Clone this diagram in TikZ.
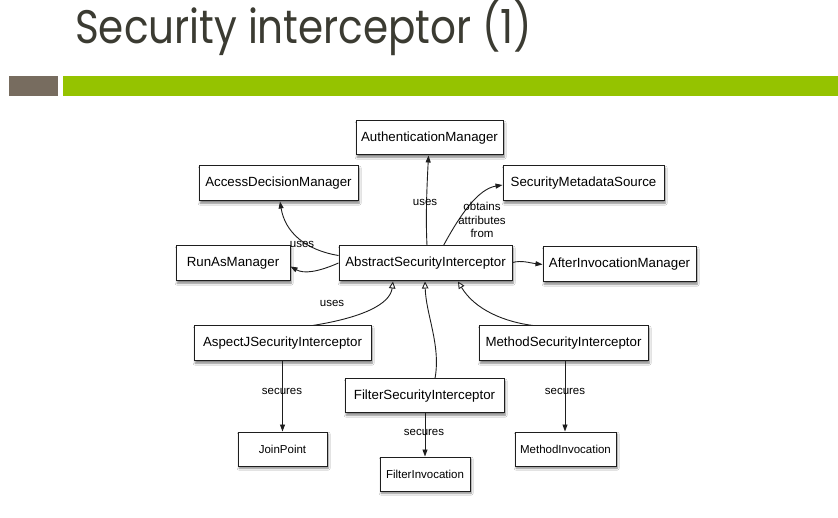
\documentclass[tikz,border=0pt]{standalone}
\usepackage{fontspec}
\usepackage{graphicx}
\setmainfont{Liberation Sans}
\newfontfamily\titlefont{Poppins}
\usetikzlibrary{arrows.meta,shadows.blur}

\definecolor{titlegray}{HTML}{3B3B32}
\definecolor{barstone}{HTML}{776C5F}
\definecolor{bargreen}{HTML}{95C300}
\definecolor{inkline}{HTML}{1E1E1E}

\tikzset{
  classbox/.style={draw=inkline, line width=1pt, fill=white, rectangle,
    inner sep=0pt, font=\fontsize{13.3}{15}\selectfont,
    blur shadow={shadow xshift=1.2pt, shadow yshift=-2.2pt,
      shadow blur radius=2pt, shadow blur steps=6, shadow opacity=50}},
  objbox/.style={classbox, font=\fontsize{11.5}{13}\selectfont},
  assoc/.style={draw=inkline, line width=0.9pt,
    -{Triangle[length=7pt,width=5pt]}},
  inherit/.style={draw=inkline, line width=0.9pt,
    -{Triangle[open,length=7pt,width=6.5pt,fill=white]}},
  edgelabel/.style={font=\fontsize{11.5}{13.5}\selectfont, inner sep=0pt, align=center}
}

\begin{document}
\begin{tikzpicture}[x=1pt,y=1pt]
\useasboundingbox[fill=white] (0,0) rectangle (838,-518);

% title and header bars
\node[anchor=base west, inner sep=0pt, text=titlegray] (title) at (75,-44)
  {\resizebox{457pt}{\height}{\titlefont\fontsize{47}{50}\selectfont Security interceptor (1)}};
\fill[barstone] (9,-76) rectangle (58,-96);
\fill[bargreen] (63,-76) rectangle (838,-96);

% classes
\node[classbox, minimum width=147pt, minimum height=34pt] (auth)  at (429.5,-138)  {AuthenticationManager};
\node[classbox, minimum width=159pt, minimum height=35pt] (adm)   at (278.5,-183.5) {AccessDecisionManager};
\node[classbox, minimum width=161pt, minimum height=35pt] (sms)   at (583.5,-183.5) {SecurityMetadataSource};
\node[classbox, minimum width=114pt, minimum height=35pt] (runas) at (233,-263.5)   {RunAsManager};
\node[classbox, minimum width=173pt, minimum height=35pt] (asi)   at (425.5,-263.5) {AbstractSecurityInterceptor};
\node[classbox, minimum width=153pt, minimum height=35pt] (aim)   at (619.5,-264.5) {AfterInvocationManager};
\node[classbox, minimum width=177pt, minimum height=35pt] (ajsi)  at (282.5,-343.5) {AspectJSecurityInterceptor};
\node[classbox, minimum width=159pt, minimum height=34pt] (fsi)   at (424.5,-396)   {FilterSecurityInterceptor};
\node[classbox, minimum width=169pt, minimum height=35pt] (msi)   at (563.5,-343.5) {MethodSecurityInterceptor};

% secured objects
\node[objbox, minimum width=89pt,  minimum height=34pt] (jp) at (282.5,-449) {JoinPoint};
\node[objbox, minimum width=90pt,  minimum height=34pt] (fi) at (425,-474)   {FilterInvocation};
\node[objbox, minimum width=101pt, minimum height=34pt] (mi) at (565.5,-449) {MethodInvocation};

% associations from the abstract interceptor
\draw[assoc] ([xshift=1.5pt]asi.north) .. controls +(-1.5,30) and +(-1.5,-30) .. ([xshift=-1pt]auth.south);
\node[edgelabel] (lbauth) at (425,-202) {uses};

\draw[assoc] ([yshift=-10pt]asi.north west) .. controls (305,-250) and (285,-232) .. ([xshift=1.5pt]adm.south);
\node[edgelabel] (lbadm) at (302,-244) {uses};

\draw[assoc] ([yshift=0.5pt]asi.west) .. controls (318,-272) and (304,-274) .. ([yshift=-3pt]runas.east);

\draw[assoc] ([xshift=-69pt]asi.north east) .. controls (460,-215) and (478,-189) .. ([yshift=-1.5pt]sms.west);
\node[edgelabel] (lbsms) at (482,-220) {obtains\\attributes\\from};

\draw[assoc] ([yshift=1pt]asi.east) .. controls (522,-260) and (530,-263) .. (aim.west);

% subclasses
\draw[inherit] ([xshift=30pt]ajsi.north) .. controls (360,-318) and (390,-305) .. ([xshift=-32.5pt]asi.south);
\node[edgelabel] (lbaj) at (332,-303) {uses};

\draw[inherit] ([xshift=10.5pt]fsi.north) .. controls (441,-345) and (426,-315) .. ([xshift=-0.5pt]asi.south);

\draw[inherit] ([xshift=-30.5pt]msi.north) .. controls (505,-322) and (475,-310) .. ([xshift=32.5pt]asi.south);

% securing relations
\draw[assoc] (ajsi.south) -- (jp.north);
\node[edgelabel] (lbjp) at (282,-391) {secures};

\draw[assoc] ([xshift=0.5pt]fsi.south) -- (fi.north);
\node[edgelabel] (lbfi) at (424,-432) {secures};

\draw[assoc] ([xshift=1.5pt]msi.south) -- ([xshift=-0.5pt]mi.north);
\node[edgelabel] (lbmi) at (565,-391) {secures};
\end{tikzpicture}
\end{document}
